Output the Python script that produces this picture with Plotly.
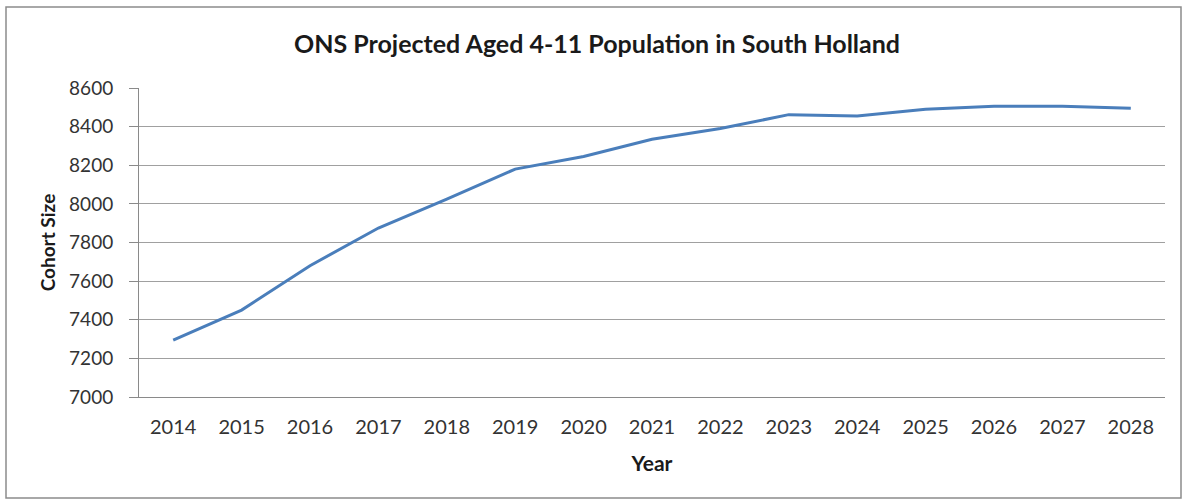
import plotly.graph_objects as go

years = ["2014", "2015", "2016", "2017", "2018", "2019", "2020", "2021",
         "2022", "2023", "2024", "2025", "2026", "2027", "2028"]
cohort_size = [7295, 7450, 7680, 7875, 8025, 8180, 8245, 8335,
               8390, 8462, 8455, 8490, 8505, 8505, 8495]
y_ticks = [7000, 7200, 7400, 7600, 7800, 8000, 8200, 8400, 8600]

FONT = "Lato"
W, H = 1187, 500
L, R, T, B = 139, 22, 88, 103
PW, PH = W - L - R, H - T - B

fig = go.Figure()
fig.add_trace(go.Scatter(
    x=years, y=cohort_size, mode="lines",
    line=dict(color="#4A7EBB", width=3),
    showlegend=False, hoverinfo="x+y",
))

fig.update_layout(
    width=W, height=H,
    paper_bgcolor="white", plot_bgcolor="white",
    margin=dict(l=L, r=R, t=T, b=B),
    title=dict(text="<b>ONS Projected Aged 4-11 Population in South Holland</b>",
               x=597 / W, xanchor="center", y=1 - 44 / H, yanchor="middle",
               font=dict(family=FONT, size=25, color="#1a1a1a")),
    font=dict(family=FONT, color="#333333"),
    xaxis=dict(
        type="category", range=[-0.5, 14.5],
        showgrid=False, showline=True, linecolor="#8a8a8a", linewidth=1,
        ticks="", tickfont=dict(size=20, color="#333333"),
        ticklabelstandoff=12,
        title=dict(text="<b>Year</b>", font=dict(size=21, color="#1a1a1a"), standoff=19),
        zeroline=False,
    ),
    yaxis=dict(
        range=[7000, 8600], tickvals=y_ticks,
        showgrid=True, gridcolor="#a0a0a0", gridwidth=1,
        showline=True, linecolor="#8a8a8a", linewidth=1,
        ticks="outside", ticklen=9, tickcolor="#8a8a8a",
        ticklabelstandoff=12,
        tickfont=dict(size=19, color="#333333"),
        title=dict(text="<b>Cohort Size</b>", font=dict(size=19, color="#1a1a1a"), standoff=8),
        zeroline=False,
    ),
    shapes=[dict(type="rect", xref="paper", yref="paper",
                 x0=(6 - L) / PW, x1=(1181 - L) / PW,
                 y0=-(498 - (T + PH)) / PH, y1=(T + PH - 7) / PH,
                 line=dict(color="#8c8c8c", width=1.5), fillcolor="rgba(0,0,0,0)",
                 layer="below")],
)

fig.write_html("out.html", config={"displayModeBar": False},
               post_script="document.body.style.margin='0';document.body.style.overflow='hidden';")
